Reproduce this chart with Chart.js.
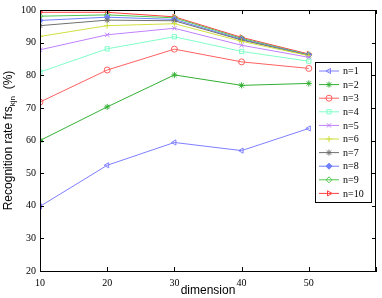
<!DOCTYPE html>
<html><head><meta charset="utf-8">
<script src="https://cdn.jsdelivr.net/npm/chart.js@4.4.0/dist/chart.umd.min.js"></script>
<style>html,body{margin:0;padding:0;background:#fff}#wrap{width:382px;height:298px;position:relative}</style>
</head><body><div id="wrap"><canvas id="c" width="382" height="298"></canvas></div>
<script>
const dimensions = [10, 20, 30, 40, 50];
const xTickValues = [10, 20, 30, 40, 50, 60];
const yTickValues = [20, 30, 40, 50, 60, 70, 80, 90, 100];
const seriesNames = ['n=1','n=2','n=3','n=4','n=5','n=6','n=7','n=8','n=9','n=10'];
const n1  = [39.8, 52.4, 59.4, 56.9, 63.7];
const n2  = [60.0, 70.3, 80.1, 76.9, 77.5];
const n3  = [71.8, 81.6, 88.0, 84.1, 82.1];
const n4  = [81.0, 88.1, 91.8, 87.3, 84.3];
const n5  = [87.8, 92.4, 94.4, 89.2, 85.5];
const n6  = [91.9, 95.2, 95.8, 90.4, 86.0];
const n7  = [95.2, 96.9, 96.7, 90.8, 86.1];
const n8  = [96.8, 97.8, 97.1, 91.0, 86.2];
const n9  = [98.1, 98.5, 97.6, 91.3, 86.3];
const n10 = [99.3, 99.3, 97.9, 91.6, 86.5];
const seriesValues = [n1, n2, n3, n4, n5, n6, n7, n8, n9, n10];

const styles = [
  {c:'#7f7fff', p:'triangle', r:-90, fill:false},
  {c:'#33b033', p:'star', r:0, fill:true},
  {c:'#ff6060', p:'circle', r:0, fill:false},
  {c:'#80ffc8', p:'rect', r:0, fill:false},
  {c:'#c080ff', p:'crossRot', r:0, fill:false},
  {c:'#d0e040', p:'cross', r:0, fill:false},
  {c:'#707070', p:'star', r:0, fill:false},
  {c:'#6f7fff', p:'rectRot', r:0, fill:true},
  {c:'#50c850', p:'rectRot', r:0, fill:false},
  {c:'#ff4040', p:'triangle', r:90, fill:false}
];

const datasets = seriesValues.map((vals, i) => ({
  label: seriesNames[i],
  data: dimensions.map((d, j) => ({x: d, y: vals[j]})),
  borderColor: styles[i].c,
  backgroundColor: styles[i].fill ? styles[i].c : 'rgba(0,0,0,0)',
  pointBorderColor: styles[i].c,
  pointBackgroundColor: styles[i].fill ? styles[i].c : 'rgba(0,0,0,0)',
  pointStyle: styles[i].p,
  pointRotation: styles[i].r,
  pointRadius: 3,
  pointBorderWidth: 1,
  borderWidth: 1,
  tension: 0
}));

const framePlugin = {
  id: 'frame',
  afterDraw(chart) {
    const ctx = chart.ctx, a = chart.chartArea;
    const xs = chart.scales.x, ys = chart.scales.y;
    ctx.save();
    ctx.strokeStyle = '#000'; ctx.lineWidth = 1;
    ctx.strokeRect(Math.round(a.left)+0.5, Math.round(a.top)+0.5, Math.round(a.right-a.left)-1, Math.round(a.bottom-a.top));
    ctx.beginPath();
    xTickValues.forEach(v => {
      const px = Math.round(xs.getPixelForValue(v)) + 0.5;
      ctx.moveTo(px, a.bottom); ctx.lineTo(px, a.bottom - 4);
      ctx.moveTo(px, a.top); ctx.lineTo(px, a.top + 4);
    });
    yTickValues.forEach(v => {
      const py = Math.round(ys.getPixelForValue(v)) + 0.5;
      ctx.moveTo(a.left, py); ctx.lineTo(a.left + 4, py);
      ctx.moveTo(a.right, py); ctx.lineTo(a.right - 4, py);
    });
    ctx.stroke();

    // axis titles
    ctx.fillStyle = '#000';
    ctx.textBaseline = 'middle';
    ctx.font = '12px "Liberation Sans", Arial, sans-serif';
    ctx.textAlign = 'center';
    ctx.fillText('dimension', (a.left + a.right) / 2, 291);

    ctx.save();
    ctx.translate(9, (a.top + a.bottom) / 2);
    ctx.rotate(-Math.PI / 2);
    ctx.textAlign = 'left';
    const main = 'Recognition rate frs', sub = 'kjn', tail = '  (%)';
    ctx.font = '12px "Liberation Sans", Arial, sans-serif';
    const w1 = ctx.measureText(main).width, w3 = ctx.measureText(tail).width;
    ctx.font = '8px "Liberation Sans", Arial, sans-serif';
    const w2 = ctx.measureText(sub).width;
    let x0 = -(w1 + w2 + w3) / 2;
    ctx.font = '12px "Liberation Sans", Arial, sans-serif';
    ctx.fillText(main, x0, 0);
    ctx.font = '8px "Liberation Sans", Arial, sans-serif';
    ctx.fillText(sub, x0 + w1, 4);
    ctx.font = '12px "Liberation Sans", Arial, sans-serif';
    ctx.fillText(tail, x0 + w1 + w2, 0);
    ctx.restore();

    // legend
    const lx = 315.5, ly = 62.5, lw = 56, lh = 140;
    ctx.fillStyle = '#fff';
    ctx.fillRect(lx, ly, lw, lh);
    ctx.strokeStyle = '#000';
    ctx.strokeRect(lx, ly, lw, lh);
    ctx.font = '10px "Liberation Serif", "Times New Roman", serif';
    ctx.textAlign = 'left';
    chart.data.datasets.forEach((ds, i) => {
      const y = 71 + i * 13.6;
      ctx.strokeStyle = ds.borderColor;
      ctx.lineWidth = 1;
      ctx.beginPath(); ctx.moveTo(319, y); ctx.lineTo(339, y); ctx.stroke();
      ctx.fillStyle = ds.pointBackgroundColor;
      Chart.helpers.drawPoint(ctx, {pointStyle: ds.pointStyle, rotation: ds.pointRotation, radius: 3, borderWidth: 1}, 329, y);
      ctx.fillStyle = '#000';
      ctx.fillText(ds.label, 343, y + 0.5);
    });
    ctx.restore();
  }
};

new Chart(document.getElementById('c'), {
  type: 'line',
  data: { datasets },
  options: {
    responsive: false,
    devicePixelRatio: 1,
    animation: false,
    layout: { padding: { top: 4, right: 2, left: 0, bottom: 0 } },
    plugins: { legend: { display: false }, tooltip: { enabled: false } },
    scales: {
      x: {
        type: 'linear', min: 10, max: 60,
        afterBuildTicks: s => { s.ticks = xTickValues.map(v => ({value: v})); },
        ticks: {
          callback: v => (v === 60 ? '' : String(v)),
          font: { family: '"Liberation Serif", "Times New Roman", serif', size: 10 },
          color: '#000', padding: 6, maxRotation: 0, autoSkip: false
        },
        grid: { drawOnChartArea: false, drawTicks: false },
        border: { display: true, color: '#000' },
        afterFit: s => { s.height = 27; }
      },
      y: {
        min: 20, max: 100,
        afterBuildTicks: s => { s.ticks = yTickValues.map(v => ({value: v})); },
        ticks: {
          font: { family: '"Liberation Serif", "Times New Roman", serif', size: 10 },
          color: '#000', padding: 4, autoSkip: false
        },
        grid: { drawOnChartArea: false, drawTicks: false },
        border: { display: true, color: '#000' },
        afterFit: s => { s.width = 40; }
      }
    }
  },
  plugins: [framePlugin]
});
</script>
</body></html>
